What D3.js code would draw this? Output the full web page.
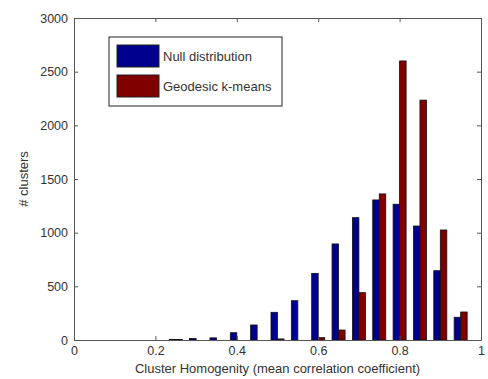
<!DOCTYPE html>
<html>
<head>
<meta charset="utf-8">
<script src="https://cdn.jsdelivr.net/npm/d3@7"></script>
<style>
  body { margin: 0; background: #fff; }
  text { font-family: "Liberation Sans", Arial, sans-serif; }
</style>
</head>
<body>
<div id="chart"></div>
<script>
// bin centres and counts per series
const bins = [0.25, 0.3, 0.35, 0.4, 0.45, 0.5, 0.55, 0.6, 0.65, 0.7, 0.75, 0.8, 0.85, 0.9, 0.95];
const nullDist = [6, 15, 20, 68, 140, 258, 366, 621, 895, 1140, 1305, 1265, 1062, 646, 212];
const geodesic = [4, 0, 0, 0, 0, 10, 0, 22, 93, 441, 1361, 2600, 2235, 1025, 261];
const seriesNames = ["Null distribution", "Geodesic k-means"];
const seriesColors = ["#00008f", "#800000"];
const xTicks = [0, 0.2, 0.4, 0.6, 0.8, 1];
const yTicks = [0, 500, 1000, 1500, 2000, 2500, 3000];

const W = 488, H = 379;
const m = { left: 74, right: 7, top: 18, bottom: 39 };
const fs = "12.5px";

const svg = d3.select("#chart").append("svg")
  .attr("width", W).attr("height", H);

const x = d3.scaleLinear().domain([0, 1]).range([m.left, W - m.right]);
const y = d3.scaleLinear().domain([0, 3000]).range([H - m.bottom, m.top]);

const barW = 0.016; // data units per bar
const series = [nullDist, geodesic];

series.forEach((vals, s) => {
  svg.append("g").selectAll("rect")
    .data(vals.map((v, i) => ({ c: bins[i], v })))
    .enter().append("rect")
    .attr("x", d => s === 0 ? x(d.c - barW) : x(d.c))
    .attr("width", x(barW) - x(0))
    .attr("y", d => y(d.v))
    .attr("height", d => y(0) - y(d.v))
    .attr("fill", seriesColors[s])
    .attr("stroke", "#111")
    .attr("stroke-width", 0.8);
});

// axes box with inward ticks
const axisColor = "#555";
const gx = svg.append("g").attr("transform", `translate(0,${y(0)})`)
  .call(d3.axisBottom(x).tickValues(xTicks).tickSizeInner(-4).tickSizeOuter(0).tickPadding(6)
    .tickFormat(d => d === 0 || d === 1 ? d : d3.format(".1f")(d)));
const gxt = svg.append("g").attr("transform", `translate(0,${y(3000)})`)
  .call(d3.axisTop(x).tickValues(xTicks).tickSizeInner(-4).tickSizeOuter(0).tickFormat(""));
const gy = svg.append("g").attr("transform", `translate(${x(0)},0)`)
  .call(d3.axisLeft(y).tickValues(yTicks).tickSizeInner(-4).tickSizeOuter(0).tickPadding(6)
    .tickFormat(d3.format("d")));
const gyr = svg.append("g").attr("transform", `translate(${x(1)},0)`)
  .call(d3.axisRight(y).tickValues(yTicks).tickSizeInner(-4).tickSizeOuter(0).tickFormat(""));

[gx, gxt, gy, gyr].forEach(g => {
  g.select(".domain").attr("stroke", axisColor);
  g.selectAll(".tick line").attr("stroke", axisColor);
  g.selectAll("text").attr("fill", "#333").style("font-size", fs)
    .style("font-family", "'Liberation Sans', Arial, sans-serif");
});

// axis labels
svg.append("text")
  .attr("x", (x(0) + x(1)) / 2).attr("y", H - 6)
  .attr("text-anchor", "middle")
  .style("font-size", "13px").attr("fill", "#333")
  .text("Cluster Homogenity (mean correlation coefficient)");

svg.append("text")
  .attr("transform", `translate(28,${(y(0) + y(3000)) / 2}) rotate(-90)`)
  .attr("text-anchor", "middle")
  .style("font-size", "13px").attr("fill", "#333")
  .text("# clusters");

// legend
const lg = svg.append("g").attr("transform", "translate(109,37)");
lg.append("rect").attr("width", 173).attr("height", 69)
  .attr("fill", "#fff").attr("stroke", "#222");
seriesNames.forEach((name, i) => {
  lg.append("rect")
    .attr("x", 8).attr("y", 8 + i * 30)
    .attr("width", 42).attr("height", 22)
    .attr("fill", seriesColors[i]).attr("stroke", "#222");
  lg.append("text")
    .attr("x", 54).attr("y", 24 + i * 30)
    .style("font-size", "13px").attr("fill", "#333")
    .text(name);
});
</script>
</body>
</html>
